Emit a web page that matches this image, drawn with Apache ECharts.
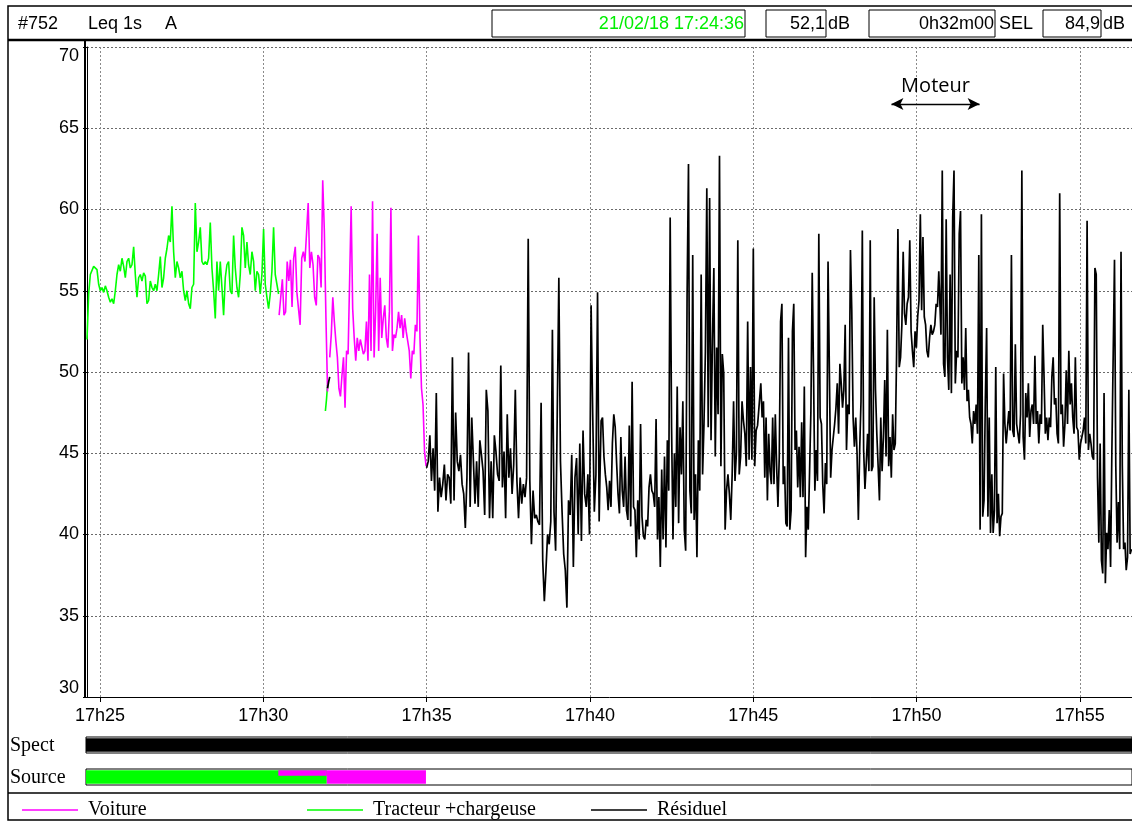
<!DOCTYPE html>
<html><head><meta charset="utf-8">
<script src="https://cdn.jsdelivr.net/npm/echarts@6/dist/echarts.min.js"></script>
<style>html,body{margin:0;padding:0;background:#fff}#c{width:1132px;height:821px}</style>
</head><body><div id="c"></div><script>
// ---------- header texts ----------
const headerId = '#752', headerMeas = 'Leq 1s', headerWeight = 'A';
const headerDate = '21/02/18 17:24:36', headerLeq = '52,1', headerDur = '0h32m00', headerSel = '84,9';
// ---------- axes ----------
const recordStart = '17:24:36', recordEnd = '17:56:36';
const yMin = 30, yMax = 70, yStep = 5;
const xTickTimes = ['17:25:00','17:30:00','17:35:00','17:40:00','17:45:00','17:50:00','17:55:00'];
const xTickLabels = ['17h25','17h30','17h35','17h40','17h45','17h50','17h55'];
const seriesNames = ['Voiture', 'Tracteur +chargeuse', 'Résiduel'];
// ---------- Leq 1s values (dB), per segment [start, end] ----------
const tracteur1Span = ['17:24:36', '17:30:28'];
const tracteur1 = [52.0,54.8,56.0,56.0,56.5,56.4,56.3,55.4,55.0,55.2,54.9,55.3,55.0,54.6,54.3,54.5,54.2,55.0,56.0,56.6,
 56.2,57.0,56.5,55.8,56.8,57.0,56.4,56.6,57.7,56.0,54.6,55.8,56.0,55.6,56.1,55.9,54.2,54.4,55.6,55.2,
 55.0,55.4,55.0,56.0,57.1,55.2,55.8,57.0,57.6,58.4,58.0,60.2,57.4,55.8,56.8,56.4,55.8,56.2,55.0,54.4,
 55.0,54.2,53.9,55.2,55.4,60.4,57.4,58.0,58.9,56.8,56.6,56.8,56.6,57.0,59.2,56.4,55.0,53.3,56.8,55.0,
 56.8,55.2,53.5,55.8,56.6,56.8,55.0,54.8,58.4,56.4,55.2,54.6,56.0,58.9,58.4,56.4,58.0,56.6,56.0,57.4,
 56.8,55.0,56.2,56.0,54.8,56.0,58.8,55.4,54.6,53.9,54.8,56.2,58.9,56.0,56.0,54.8];
const tracteur2Span = ['17:31:54', '17:31:58'];
const tracteur2 = [47.6, 48.3, 49.2];
const voiture1Span = ['17:30:29', '17:31:58'];
const voiture1 = [53.5,54.6,55.7,53.5,53.7,56.8,55.6,56.9,54.0,57.0,57.7,54.9,54.8,52.9,57.0,57.4,56.8,58.6,60.4,56.4,
 57.4,56.6,54.6,54.1,57.2,57.0,55.2,61.8,58.7,53.3,48.8];
const voiture2Span = ['17:32:02', '17:34:59'];
const voiture2 = [50.9,52.3,54.6,53.1,51.9,50.9,49.0,48.5,49.8,50.9,47.8,51.3,51.1,51.1,60.2,53.9,52.1,50.7,52.1,51.3,
 52.0,52.1,51.1,51.3,53.1,50.7,56.0,51.3,60.5,50.9,53.7,58.5,51.3,55.8,52.1,53.3,54.1,52.1,51.5,53.7,
 60.1,51.3,52.3,52.1,52.7,53.7,52.7,53.5,52.1,53.3,52.5,51.9,51.3,49.6,51.3,51.1,52.9,52.5,58.4,52.1,
 49.0,48.0,45.1,44.2];
const residuel0Span = ['17:31:58', '17:32:02'];
const residuel0 = [49.0, 49.4, 49.7];
const residuel1Span = ['17:35:00', '17:40:17'];
const residuel1 = [44.1,44.5,46.1,43.3,45.3,42.7,48.7,41.4,43.5,42.3,43.1,44.3,42.1,43.7,43.5,41.9,50.9,42.1,47.5,44.5,
 43.9,44.9,43.1,42.5,40.4,43.5,51.2,41.7,47.2,47.2,41.9,44.5,41.7,45.8,44.9,43.9,41.2,48.9,47.6,41.0,
 44.5,41.0,46.1,45.1,43.7,43.3,50.4,42.9,45.1,41.0,47.4,43.5,45.3,42.5,44.3,48.9,43.3,41.0,43.5,41.9,
 43.1,42.3,43.5,58.2,43.3,39.4,42.7,41.0,41.2,40.8,40.6,48.1,38.4,35.9,37.8,40.0,39.4,40.8,52.6,41.4,
 39.0,47.4,55.8,44.5,41.4,38.8,37.8,35.5,42.1,41.2,44.9,38.0,43.5,44.7,40.0,45.6,39.6,46.4,42.5,41.7,
 43.7,40.0,54.1,47.4,41.4,43.7,54.9,40.8];
const residuel2Span = ['17:40:18', '17:45:08'];
const residuel2 = [42.7,47.0,47.2,44.8,43.7,42.9,41.5,43.3,41.7,45.6,47.4,46.6,44.4,42.5,41.3,46.0,42.7,41.7,44.8,41.5,
 40.9,46.7,40.5,49.4,41.7,41.5,38.6,42.1,39.7,46.8,41.1,39.9,39.7,40.9,40.5,42.9,43.7,42.7,42.5,41.7,
 47.1,39.7,42.3,38.0,44.0,39.7,44.8,39.2,45.8,42.7,59.5,46.6,39.7,45.0,41.7,49.1,40.7,46.6,43.7,48.2,
 40.3,39.0,54.6,62.8,42.7,41.3,57.2,40.9,43.7,38.6,45.8,42.7,56.0,43.7,46.8,51.3,61.3,46.6,60.7,45.8,
 51.9,56.4,44.8,51.5,47.4,63.3,44.2,51.1,49.9,40.3,42.7,43.7,42.5,40.9,43.7,48.2,43.3,45.0,58.1,43.7,
 44.8,48.2,47.0,46.2,44.2,53.1,44.6,50.3,44.6,57.6,44.2,46.4,46.7];
const residuel3Span = ['17:45:14', '17:50:41'];
const residuel3 = [49.3,47.2,48.2,43.5,47.2,42.1,46.2,43.9,43.1,47.2,43.1,47.4,44.2,41.7,44.8,53.1,54.2,43.1,44.2,40.7,
 40.5,52.1,40.3,41.5,52.5,54.2,45.2,46.4,42.9,45.4,42.3,46.9,42.3,49.1,38.6,41.7,40.3,43.9,47.6,56.1,
 49.9,42.7,45.2,43.3,58.5,47.2,46.8,43.1,41.3,44.4,43.1,56.8,56.8,43.5,45.2,45.2,46.8,47.8,49.3,46.2,
 50.5,49.3,47.8,48.9,52.9,45.2,48.0,47.4,57.5,53.8,47.2,45.4,47.2,45.0,40.9,45.2,48.2,58.7,45.2,42.8,
 44.4,46.2,43.9,58.1,43.9,44.2,54.6,48.9,46.2,44.2,42.1,47.2,43.9,46.0,49.5,44.8,52.6,44.2,46.0,43.5,
 47.4,45.2,45.6,51.1,58.8,50.3,50.9,52.9,57.4,53.6,52.9,54.2,54.6,58.1,52.5,51.3,50.3,52.5,51.5,53.4,
 54.4,59.7,53.8,58.3,53.4,52.9,51.3,50.9,52.1,52.9,52.3,52.5,52.9,54.2,54.0,56.2];
const residuel4Span = ['17:50:45', '17:56:35'];
const residuel4 = [52.3,62.4,50.5,49.7,59.4,50.9,48.9,56.0,48.7,59.5,62.4,49.3,51.3,50.9,58.5,59.9,49.3,50.9,48.9,52.7,
 48.2,48.9,47.2,46.8,45.6,47.6,46.8,48.0,46.2,57.2,40.3,59.7,41.1,42.1,48.2,52.7,41.1,47.2,40.1,43.7,
 40.1,41.5,50.3,40.7,42.5,39.9,41.1,41.3,49.9,46.8,45.6,46.6,47.6,46.4,57.2,46.4,46.0,51.7,46.8,46.2,
 45.6,47.4,62.4,46.0,44.6,48.7,47.2,49.3,46.0,47.6,48.0,46.8,51.0,46.8,47.6,45.6,47.4,46.8,52.9,49.7,
 46.2,47.2,45.8,47.2,46.6,49.7,50.9,48.0,48.4,46.2,45.6,61.0,47.4,48.0,45.4,46.8,50.1,46.8,51.3,48.0,
 49.3,47.2,46.2,50.9,46.6,46.4,44.6,45.6,46.0,46.4,47.2,45.6,59.3,45.2,46.2,45.6,44.8,44.6,56.4,56.0,
 43.5,39.5,45.6,38.4,37.6,48.7,37.0,40.1,39.1,41.5,38.0,45.2,45.2,56.9,44.2,39.5,42.0,39.1,57.4,44.2,
 39.1,39.5,37.8,38.6,48.9,38.8,39.1];
// ---------- Source / Spect bands ----------
const sourceFrom = ['17:24:36', '17:30:29', '17:31:58'];
const sourceTo   = ['17:31:58', '17:31:58', '17:35:00'];
const sourceWho  = ['Tracteur +chargeuse', 'Voiture', 'Voiture'];
const sourceHalf = ['full', 'top', 'full'];
const spectFrom = ['17:24:36'], spectTo = ['17:56:36'];
// ---------- annotation ----------
const moteurLabel = 'Moteur', moteurFrom = '17:49:14', moteurTo = '17:51:56', moteurLevel = 66.5;

const colors = {'Voiture': '#ff00ff', 'Tracteur +chargeuse': '#00ff00', 'Résiduel': '#000000'};

function toMin(s) { const p = s.split(':').map(Number); return p[0] * 60 + p[1] + p[2] / 60; }
function seg(span, vals) {
  const a = toMin(span[0]), b = toMin(span[1]);
  return vals.map((v, i) => [a + (b - a) * i / (vals.length - 1), v]);
}
function gap(span) { return [[toMin(span[1]) + 0.01, '-']]; }
function fmt(v) { const h = Math.floor(v / 60 + 1e-9); const m = Math.round(v - h * 60); return h + 'h' + String(m).padStart(2, '0'); }

const greenData = [].concat(seg(tracteur1Span, tracteur1), gap(tracteur1Span), seg(tracteur2Span, tracteur2));
const magentaData = [].concat(seg(voiture1Span, voiture1), gap(voiture1Span), seg(voiture2Span, voiture2));
const blackData = [].concat(seg(residuel0Span, residuel0), gap(residuel0Span),
  seg(residuel1Span, residuel1), seg(residuel2Span, residuel2), seg(residuel3Span, residuel3), seg(residuel4Span, residuel4));

const xMin = toMin(recordStart), xMax = toMin(recordEnd);
const xTicks = xTickTimes.map(toMin);
const SANS = '"Liberation Sans", Arial, sans-serif';
const SERIF = '"Liberation Serif", "Times New Roman", serif';

const chart = echarts.init(document.getElementById('c'), null, {renderer: 'canvas'});
const bandY = gi => ({gridIndex: gi, type: 'value', min: 0, max: 1, show: false, splitLine: {show: false}});

function bandRender(params, api) {
  const x0 = api.value(0), x1 = api.value(1), lane = api.value(2);
  const yTop = 0.92, yBot = lane === 1 ? 0.58 : 0.08;
  const p0 = api.coord([x0, yTop]), p1 = api.coord([x1, yBot]);
  return {type: 'rect', shape: {x: p0[0], y: p0[1], width: p1[0] - p0[0], height: p1[1] - p0[1]},
    style: {fill: api.visual('color')}};
}

const sourceData = sourceFrom.map((f, i) => ({
  value: [toMin(f), toMin(sourceTo[i]), sourceHalf[i] === 'top' ? 1 : 0],
  itemStyle: {color: colors[sourceWho[i]]}
}));
const spectData = spectFrom.map((f, i) => ({value: [toMin(f), toMin(spectTo[i]), 0], itemStyle: {color: '#000'}}));

const hdrText = (x, y, text, opt) => Object.assign({type: 'text', x: x, y: y,
  style: Object.assign({text: text, font: '18px ' + SANS, fill: '#000', textVerticalAlign: 'middle', verticalAlign: 'middle'}, opt || {})});
const box = (x, y, w, h, lw) => ({type: 'rect', shape: {x: x, y: y, width: w, height: h},
  style: {fill: 'none', stroke: '#000', lineWidth: lw || 1}});
const hline = (x1, x2, y, lw) => ({type: 'line', shape: {x1: x1, y1: y, x2: x2, y2: y}, style: {stroke: '#000', lineWidth: lw || 1}});
const vline = (x, y1, y2, lw) => ({type: 'line', shape: {x1: x, y1: y1, x2: x, y2: y2}, style: {stroke: '#000', lineWidth: lw || 1}});

const legendLefts = [17, 302, 586];
const legends = seriesNames.map((n, i) => ({
  data: [n], left: legendLefts[i], top: 795, itemWidth: 56, itemHeight: 1.5, icon: 'rect',
  itemStyle: {borderWidth: 0},
  textStyle: {fontFamily: SERIF, fontSize: 20, color: '#000', padding: [0, 0, 0, 5]},
  selectedMode: false
}));

const option = {
  animation: false,
  backgroundColor: '#fff',
  grid: [
    {left: 87, top: 47, width: 1046, height: 650},
    {left: 86, top: 737, width: 1050, height: 16, show: true, borderColor: '#000', borderWidth: 1, backgroundColor: '#fff'},
    {left: 86, top: 769, width: 1050, height: 16, show: true, borderColor: '#000', borderWidth: 1, backgroundColor: '#fff'}
  ],
  xAxis: [
    {gridIndex: 0, type: 'value', min: xMin, max: xMax,
      axisLine: {show: true, onZero: false, lineStyle: {color: '#000', width: 1}},
      axisTick: {show: true, length: 5, customValues: xTicks, lineStyle: {color: '#000'}},
      axisLabel: {customValues: xTicks, formatter: v => xTickLabels[xTicks.findIndex(t => Math.abs(t - v) < 1e-6)] || fmt(v),
        color: '#000', fontFamily: SANS, fontSize: 18, margin: 10},
      splitLine: {show: true, lineStyle: {color: '#8a8a8a', type: [2, 2], width: 1}}},
    {gridIndex: 1, type: 'value', min: xMin, max: xMax, show: false, splitLine: {show: false}},
    {gridIndex: 2, type: 'value', min: xMin, max: xMax, show: false, splitLine: {show: false}}
  ],
  yAxis: [
    {gridIndex: 0, type: 'value', min: yMin, max: yMax, interval: yStep,
      axisLine: {show: true, lineStyle: {color: '#000', width: 1}},
      axisTick: {show: true, length: 4, lineStyle: {color: '#000'}},
      axisLabel: {color: '#000', fontFamily: SANS, fontSize: 18, margin: 8,
        verticalAlignMaxLabel: 'top', verticalAlignMinLabel: 'bottom'},
      splitLine: {show: true, lineStyle: {color: '#6a6a6a', type: [2, 2], width: 1}}},
    bandY(1), bandY(2)
  ],
  legend: legends,
  series: [
    {name: 'Tracteur +chargeuse', type: 'line', xAxisIndex: 0, yAxisIndex: 0, data: greenData, showSymbol: false, symbol: 'none',
      color: colors['Tracteur +chargeuse'], lineStyle: {width: 1.6}, connectNulls: false},
    {name: 'Voiture', type: 'line', xAxisIndex: 0, yAxisIndex: 0, data: magentaData, showSymbol: false, symbol: 'none',
      color: colors['Voiture'], lineStyle: {width: 1.6}, connectNulls: false},
    {name: 'Résiduel', type: 'line', xAxisIndex: 0, yAxisIndex: 0, data: blackData, showSymbol: false, symbol: 'none',
      color: colors['Résiduel'], lineStyle: {width: 1.7}, connectNulls: false,
      markLine: {silent: true, symbol: ['arrow', 'arrow'], symbolSize: [9, 12],
        lineStyle: {type: 'solid', color: '#000', width: 1.3},
        label: {show: true, position: 'insideMiddleTop', distance: 8, formatter: moteurLabel,
          fontFamily: '"Open Sans", "Noto Sans", sans-serif', fontSize: 20, color: '#000'},
        data: [[{coord: [toMin(moteurFrom), moteurLevel]}, {coord: [toMin(moteurTo), moteurLevel]}]]}},
    {name: 'spect', type: 'custom', xAxisIndex: 1, yAxisIndex: 1, renderItem: bandRender, data: spectData, encode: {x: [0, 1]}},
    {name: 'source', type: 'custom', xAxisIndex: 2, yAxisIndex: 2, renderItem: bandRender, data: sourceData, encode: {x: [0, 1]}}
  ],
  graphic: [
    box(8, 6, 1140, 814, 1.5),
    hline(8, 1132, 40, 2.5),
    vline(85, 41, 697, 2),
    hdrText(18, 24, headerId), hdrText(88, 24, headerMeas), hdrText(165, 24, headerWeight),
    box(492, 10, 253, 27), hdrText(744, 24, headerDate, {fill: '#00ee00', align: 'right', textAlign: 'right'}),
    box(766, 10, 60, 27), hdrText(825, 24, headerLeq, {align: 'right', textAlign: 'right'}), hdrText(828, 24, 'dB'),
    box(869, 10, 126, 27), hdrText(994, 24, headerDur, {align: 'right', textAlign: 'right'}), hdrText(999, 24, 'SEL'),
    box(1043, 10, 58, 27), hdrText(1100, 24, headerSel, {align: 'right', textAlign: 'right'}), hdrText(1103, 24, 'dB'),
    hdrText(10, 746, 'Spect', {font: '20px ' + SERIF}),
    hdrText(10, 778, 'Source', {font: '20px ' + SERIF}),
    hline(8, 1132, 793, 1.5)
  ]
};
chart.setOption(option);
</script></body></html>
